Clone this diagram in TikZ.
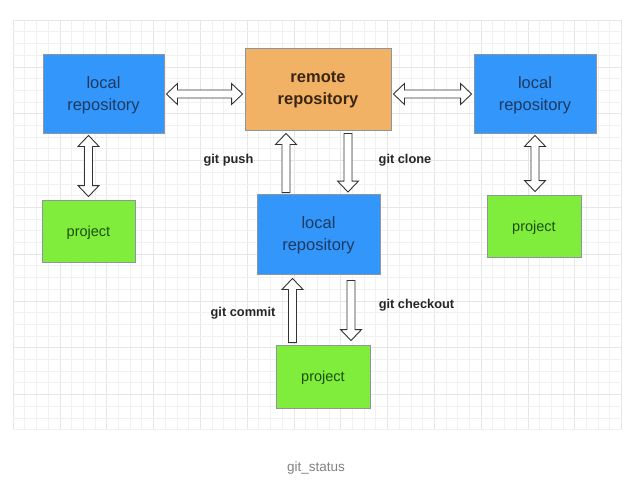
\documentclass[tikz,border=0pt]{standalone}
\usepackage{fontspec}
\setmainfont{Liberation Sans}
\usetikzlibrary{calc}
\definecolor{repoblue}{RGB}{51,150,250}
\definecolor{remoteorange}{RGB}{242,178,102}
\definecolor{projgreen}{RGB}{128,236,60}
\definecolor{boxborder}{RGB}{140,150,160}
\definecolor{bluetext}{RGB}{30,58,98}
\definecolor{browntext}{RGB}{58,38,18}
\definecolor{greentext}{RGB}{28,80,16}
\definecolor{gridminor}{RGB}{241,241,241}
\definecolor{gridmajor}{RGB}{230,230,230}
\definecolor{captiongray}{RGB}{130,130,130}
\def\arrS{4pt}
\def\arrH{10.5pt}
\def\arrL{11pt}
\newcommand\blockarrow[2]{%
  \coordinate (hB) at ($(#2)!\arrL!(#1)$);
  \draw[barrow] ($(#1)!\arrS!90:(#2)$) -- ($(hB)!\arrS!-90:(#1)$) -- ($(hB)!\arrH!-90:(#1)$) -- (#2)
    -- ($(hB)!\arrH!90:(#1)$) -- ($(hB)!\arrS!90:(#1)$) -- ($(#1)!\arrS!-90:(#2)$) -- cycle;}
\newcommand\blockdarrow[2]{%
  \coordinate (hB) at ($(#2)!\arrL!(#1)$);
  \coordinate (hA) at ($(#1)!\arrL!(#2)$);
  \draw[barrow] ($(hA)!\arrS!90:(#2)$) -- ($(hB)!\arrS!-90:(#1)$) -- ($(hB)!\arrH!-90:(#1)$) -- (#2)
    -- ($(hB)!\arrH!90:(#1)$) -- ($(hB)!\arrS!90:(#1)$) -- ($(hA)!\arrS!-90:(#2)$)
    -- ($(hA)!\arrH!-90:(#2)$) -- (#1) -- ($(hA)!\arrH!90:(#2)$) -- cycle;}
\tikzset{
  box/.style={draw=boxborder, line width=0.9pt, inner sep=0pt},
  localbox/.style={box, fill=repoblue},
  remotebox/.style={box, fill=remoteorange},
  projbox/.style={box, fill=projgreen},
  localtext/.style={align=center, inner sep=0pt, text=bluetext, font=\fontsize{16.5}{22}\selectfont},
  remotetext/.style={align=center, inner sep=0pt, text=browntext, font=\bfseries\fontsize{16.5}{22}\selectfont},
  projtext/.style={inner sep=0pt, text=greentext, font=\fontsize{14.5}{18}\selectfont},
  barrow/.style={draw=black!80, fill=white, line width=0.9pt, line join=miter},
  cmdlabel/.style={font=\bfseries\fontsize{12.8}{15}\selectfont, text=black!85},
  caption/.style={font=\fontsize{13.5}{16}\selectfont, text=captiongray}
}
\begin{document}
\begin{tikzpicture}[x=1pt,y=-1pt]
\fill[white] (0,0) rectangle (642,485);
\useasboundingbox (0,0) rectangle (642,485);
% grid
\foreach \i in {0,...,52}{
  \pgfmathsetmacro\gx{13+11.7*\i}
  \pgfmathtruncatemacro\gm{mod(\i,4)}
  \ifnum\gm=0 \draw[gridmajor, line width=0.6pt] (\gx,20) -- (\gx,430);
  \else \draw[gridminor, line width=0.5pt] (\gx,20) -- (\gx,430); \fi
}
\foreach \j in {0,...,35}{
  \pgfmathsetmacro\gy{20+11.7*\j}
  \pgfmathtruncatemacro\gm{mod(\j,4)}
  \ifnum\gm=0 \draw[gridmajor, line width=0.6pt] (13,\gy) -- (622,\gy);
  \else \draw[gridminor, line width=0.5pt] (13,\gy) -- (622,\gy); \fi
}
% boxes
\node[localbox, minimum width=121pt, minimum height=79pt] (lL) at (103.5,93.5) {};
\node[remotebox, minimum width=146pt, minimum height=82pt] (rem) at (318,89) {};
\node[localbox, minimum width=122pt, minimum height=79pt] (rL) at (535,93.5) {};
\node[projbox, minimum width=93pt, minimum height=62pt] (lP) at (88.5,231) {};
\node[localbox, minimum width=123pt, minimum height=80pt] (mL) at (318.5,234) {};
\node[projbox, minimum width=94pt, minimum height=62pt] (rP) at (534,226) {};
\node[projbox, minimum width=94pt, minimum height=63pt] (bP) at (323,376.5) {};
% box texts
\node[localtext] (lLt) at ($(lL.center)+(0,1.5)$) {local\\repository};
\node[remotetext] (remt) at ($(rem.center)+(0,0.5)$) {remote\\repository};
\node[localtext] (rLt) at ($(rL.center)+(0,1.5)$) {local\\repository};
\node[localtext] (mLt) at ($(mL.center)+(0,1.5)$) {local\\repository};
\node[projtext] (lPt) at ($(lP.center)+(0,1.5)$) {project};
\node[projtext] (rPt) at ($(rP.center)+(0,1.5)$) {project};
\node[projtext] (bPt) at ($(bP.center)+(0,1.5)$) {project};
% arrow end points
\coordinate (h1a) at ($(lL.east)+(2,0.5)$);
\coordinate (h1b) at ($(rem.west |- h1a)+(-2,0)$);
\coordinate (h2b) at ($(rL.west)+(-2,0.5)$);
\coordinate (h2a) at ($(rem.east |- h2b)+(2,0)$);
\coordinate (v1a) at ($(lP.north |- lL.south)+(0,2)$);
\coordinate (v1b) at ($(lP.north)+(0,-3)$);
\coordinate (v2a) at ($(rP.north |- rL.south)+(1,2)$);
\coordinate (v2b) at ($(rP.north)+(1,-3)$);
\coordinate (pushA) at ($(mL.north)+(-32.5,-1)$);
\coordinate (pushB) at ($(pushA |- rem.south)+(0,3)$);
\coordinate (cloneA) at ($(rem.south)+(30,3)$);
\coordinate (cloneB) at ($(cloneA |- mL.north)+(0,-1.5)$);
\coordinate (commitA) at ($(bP.north)+(-30.5,-2)$);
\coordinate (commitB) at ($(commitA |- mL.south)+(0,4)$);
\coordinate (checkA) at ($(mL.south)+(32.5,6)$);
\coordinate (checkB) at ($(checkA |- bP.north)+(0,-4)$);
% arrows
\blockdarrow{h1a}{h1b}
\blockdarrow{h2a}{h2b}
\blockdarrow{v1a}{v1b}
\blockdarrow{v2a}{v2b}
\blockarrow{pushA}{pushB}
\blockarrow{cloneA}{cloneB}
\blockarrow{commitA}{commitB}
\blockarrow{checkA}{checkB}
% labels
\node[cmdlabel] (lpush) at (228.5,160) {git push};
\node[cmdlabel] (lclone) at (405,160) {git clone};
\node[cmdlabel] (lcommit) at (243,313) {git commit};
\node[cmdlabel] (lcheck) at (416.5,305) {git checkout};
\node[caption] (cap) at (316,468) {git\_status};
\end{tikzpicture}
\end{document}
